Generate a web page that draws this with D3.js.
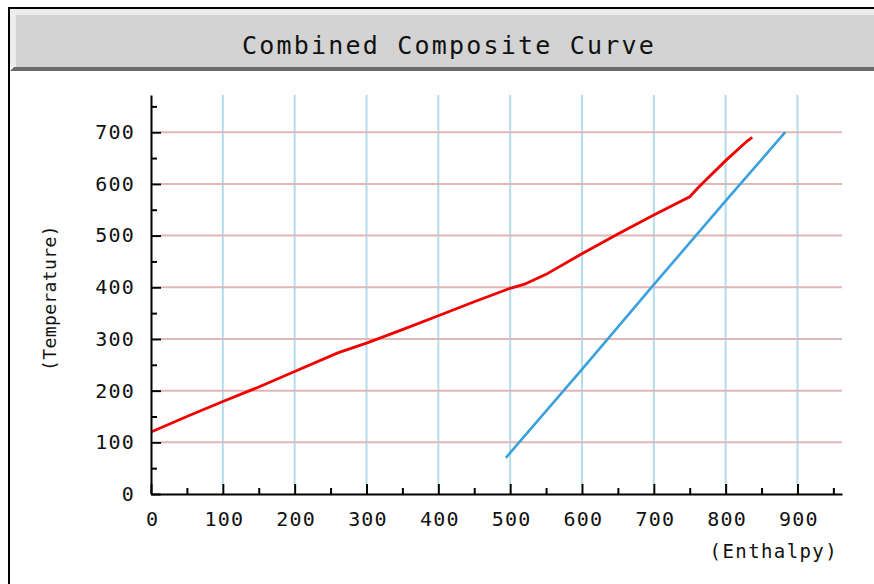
<!DOCTYPE html>
<html>
<head>
<meta charset="utf-8">
<script src="https://cdn.jsdelivr.net/npm/d3@7"></script>
<style>
  html, body { margin: 0; padding: 0; background: #fff; }
  svg { display: block; }
  text { font-family: "DejaVu Sans Mono", "Liberation Mono", monospace; fill: #111; }
</style>
</head>
<body>
<div id="chart"></div>
<script>

// hot composite curve (red)
var hotEnthalpy = [0, 50, 100, 150, 200, 260, 300, 350, 400, 450, 500, 520, 550, 600, 650, 700, 750, 760, 770, 800, 830, 837];
var hotTemp     = [120, 150, 179, 207, 237, 273, 292, 318, 345, 372, 398, 406, 425, 465, 503, 540, 575, 590, 604, 645, 683, 690];

// cold composite curve (blue)
var coldEnthalpy = [494, 600, 700, 800, 883];
var coldTemp     = [70, 241, 405, 567, 700];

var xTicks = [0, 100, 200, 300, 400, 500, 600, 700, 800, 900];
var yTicks = [0, 100, 200, 300, 400, 500, 600, 700];
var xMinor = [50, 150, 250, 350, 450, 550, 650, 750, 850, 950];
var yMinor = [50, 150, 250, 350, 450, 550, 650, 750];

var chartTitle = "Combined Composite Curve";
var xTitle = "(Enthalpy)";
var yTitle = "(Temperature)";


var W = 874, H = 584;
var svg = d3.select("#chart").append("svg")
	.attr("width", W)
	.attr("height", H);

//---------------- frame + title bar ----------------
svg.append("rect").attr("x", 10).attr("y", 9).attr("width", W - 10).attr("height", 6).attr("fill", "#ececec");
svg.append("rect").attr("x", 10).attr("y", 9).attr("width", 6).attr("height", 58).attr("fill", "#ececec");
svg.append("rect").attr("x", 16).attr("y", 15).attr("width", W - 16).attr("height", 52).attr("fill", "#d3d3d3");
svg.append("path")
	.attr("d", "M10,71 L14,67 L" + W + ",67 L" + W + ",71 Z")
	.attr("fill", "#6b6b6b");
svg.append("rect").attr("x", 8).attr("y", 7).attr("width", W - 8).attr("height", 2).attr("fill", "#000");
svg.append("rect").attr("x", 8).attr("y", 7).attr("width", 2).attr("height", H - 7).attr("fill", "#000");

svg.append("text")
	.attr("x", 448 + 1)
	.attr("y", 54)
	.attr("text-anchor", "middle")
	.style("font-size", "25px")
	.style("letter-spacing", "2.2px")
	.text(chartTitle);

//---------------- scales ----------------
var x = d3.scaleLinear().domain([0, 962]).range([151, 842]);
var y = d3.scaleLinear().domain([0, 772]).range([494, 95]);

//---------------- grid ----------------
var grid = svg.append("g");
grid.selectAll(".vgrid")
	.data(xTicks.filter(function(d) { return d > 0; }))
	.enter().append("line")
	.attr("x1", function(d) { return x(d); })
	.attr("x2", function(d) { return x(d); })
	.attr("y1", y.range()[1])
	.attr("y2", y(0) - 10)
	.attr("stroke", "#b3dcea")
	.attr("stroke-width", 2);
grid.selectAll(".hgrid")
	.data(yTicks.filter(function(d) { return d > 0; }))
	.enter().append("line")
	.attr("x1", x(0) + 10)
	.attr("x2", x.range()[1])
	.attr("y1", function(d) { return y(d); })
	.attr("y2", function(d) { return y(d); })
	.attr("stroke", "#e0b6b6")
	.attr("stroke-width", 2);

//---------------- curves ----------------
var line = d3.line()
	.x(function(d) { return x(d[0]); })
	.y(function(d) { return y(d[1]); });

svg.append("path")
	.datum(d3.zip(coldEnthalpy, coldTemp))
	.attr("d", line)
	.attr("fill", "none")
	.attr("stroke", "#3aa0de")
	.attr("stroke-width", 2.6);

svg.append("path")
	.datum(d3.zip(hotEnthalpy, hotTemp))
	.attr("d", line)
	.attr("fill", "none")
	.attr("stroke", "#f00000")
	.attr("stroke-width", 2.8);

//---------------- axes ----------------
function styleAxis(g) {
	g.select(".domain").attr("stroke", "#000").attr("stroke-width", 2);
	g.selectAll(".tick line").attr("stroke", "#000").attr("stroke-width", 2);
	g.selectAll("text")
		.attr("fill", "#111")
		.style("font-family", "DejaVu Sans Mono, monospace")
		.style("font-size", "20px")
		.style("letter-spacing", "1.2px");
}

var xAxis = svg.append("g")
	.attr("transform", "translate(0," + y(0) + ")")
	.call(d3.axisBottom(x).tickValues(xTicks).tickSize(-10).tickSizeOuter(0).tickPadding(18));
styleAxis(xAxis);
xAxis.selectAll("text").attr("dx", "1px");

svg.append("g")
	.attr("transform", "translate(0," + y(0) + ")")
	.call(d3.axisBottom(x).tickValues(xMinor).tickSize(-6).tickFormat(""))
	.call(function(g) { g.select(".domain").remove(); })
	.selectAll(".tick line").attr("stroke", "#000").attr("stroke-width", 2);

var yAxis = svg.append("g")
	.attr("transform", "translate(" + x(0) + ",0)")
	.call(d3.axisLeft(y).tickValues(yTicks).tickSize(-10).tickSizeOuter(0).tickPadding(16));
styleAxis(yAxis);

svg.append("g")
	.attr("transform", "translate(" + x(0) + ",0)")
	.call(d3.axisLeft(y).tickValues(yMinor).tickSize(-6).tickFormat(""))
	.call(function(g) { g.select(".domain").remove(); })
	.selectAll(".tick line").attr("stroke", "#000").attr("stroke-width", 2);

//---------------- axis titles ----------------
svg.append("text")
	.attr("x", 838)
	.attr("y", 558)
	.attr("text-anchor", "end")
	.style("font-size", "19px")
	.style("letter-spacing", "1.4px")
	.text(xTitle);

svg.append("text")
	.attr("transform", "translate(56,298) rotate(-90)")
	.attr("text-anchor", "middle")
	.style("font-size", "18px")
	.style("letter-spacing", "0.4px")
	.text(yTitle);

</script>
</body>
</html>
